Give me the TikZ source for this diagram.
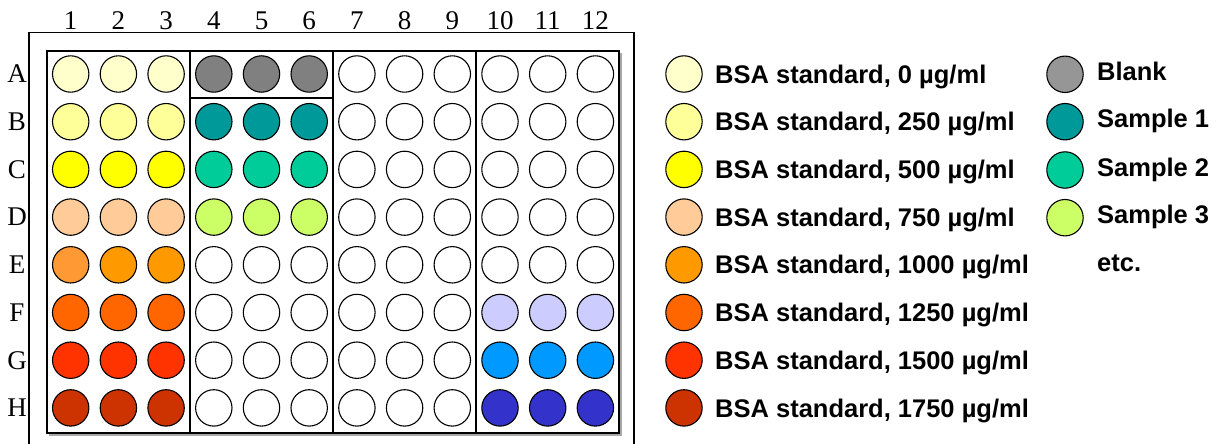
\documentclass[tikz,border=0pt]{standalone}
\usepackage{fontspec}
\setmainfont{Liberation Serif}
\newfontfamily\legfont{Liberation Sans}
\definecolor{cz}{HTML}{FFFFCC}
\definecolor{cb}{HTML}{FFFF99}
\definecolor{cc}{HTML}{FFFF00}
\definecolor{cd}{HTML}{FFCC99}
\definecolor{ce}{HTML}{FF9900}
\definecolor{cea}{HTML}{FF9933}
\definecolor{cf}{HTML}{FF6600}
\definecolor{cg}{HTML}{FF3300}
\definecolor{ch}{HTML}{CC3300}
\definecolor{gb}{HTML}{808080}
\definecolor{gbl}{HTML}{969696}
\definecolor{sa}{HTML}{009999}
\definecolor{sb}{HTML}{00CC99}
\definecolor{sc}{HTML}{CCFF66}
\definecolor{lav}{HTML}{CCCCFF}
\definecolor{sky}{HTML}{0099FF}
\definecolor{navy}{HTML}{3333CC}
\definecolor{shadow}{HTML}{A8A8A8}
\begin{document}
\begin{tikzpicture}[x=1pt,y=-1pt,
  well/.style={circle,draw=black,line width=1.1pt,minimum size=36.4pt,inner sep=0pt},
  lbl/.style={inner sep=0pt,font=\fontsize{27}{30}\selectfont},
  legtext/.style={anchor=base west,inner sep=0pt,font=\legfont\bfseries\fontsize{25.5}{28}\selectfont},
  frame/.style={draw=black,line width=1.3pt},
  divider/.style={draw=black,line width=1.6pt}]
\useasboundingbox (0,0) rectangle (1219,444);
\fill[white] (0,0) rectangle (1219,444);
% plate outline
\draw[frame] (29,446) -- (29,32.3) -- (634,32.3) -- (634,446);
% inner area shadow
\draw[shadow,line width=1.6pt] (49,435) -- (621,435) -- (621,53);
\draw[frame] (47,51) rectangle (619,433);
% dividers
\draw[divider] (190,51) -- (190,433);
\draw[divider] (332.7,51) -- (332.7,433);
\draw[divider] (475.7,51) -- (475.7,433);
\draw[divider] (190,98.3) -- (332.7,98.3);
% column labels
\foreach \c in {1,...,12}
  \node[lbl] (col-\c) at ({70.7+(\c-1)*47.7},20.5) {\c};
% wells
\foreach \r/\y/\cols in {
  A/74/{cz,cz,cz,gb,gb,gb,white,white,white,white,white,white},
  B/121.7/{cb,cb,cb,sa,sa,sa,white,white,white,white,white,white},
  C/169.4/{cc,cc,cc,sb,sb,sb,white,white,white,white,white,white},
  D/217.1/{cd,cd,cd,sc,sc,sc,white,white,white,white,white,white},
  E/264.8/{cea,ce,ce,white,white,white,white,white,white,white,white,white},
  F/312.5/{cf,cf,cf,white,white,white,white,white,white,lav,lav,lav},
  G/360.2/{cg,cg,cg,white,white,white,white,white,white,sky,sky,sky},
  H/407.9/{ch,ch,ch,white,white,white,white,white,white,navy,navy,navy}} {
  \node[lbl] (row-\r) at (17,\y) {\r};
  \foreach \fc [count=\c] in \cols
    \node[well,fill=\fc] (w-\r-\c) at ({70.7+(\c-1)*47.7},\y) {};
}
% legend, left column
\foreach \fc/\v/\y [count=\i] in {cz/0/74,cb/250/121.7,cc/500/169.4,cd/750/217.1,
  ce/1000/264.8,cf/1250/312.5,cg/1500/360.2,ch/1750/407.9} {
  \node[well,fill=\fc] (lk-\i) at (684,\y) {};
  \node[legtext] (lt-\i) at (715,\y+9.1) {BSA standard, \v\ µg/ml};
}
% legend, right column
\foreach \fc/\t/\y [count=\i] in {gbl/Blank/74.3,sa/Sample 1/121.7,sb/Sample 2/170,sc/Sample 3/217.7} {
  \node[well,fill=\fc] (rk-\i) at (1065,\y) {};
  \node[legtext] (rt-\i) at (1097,\y+6) {\t};
}
\node[legtext] (etc) at (1097,271.7) {etc.};
\end{tikzpicture}
\end{document}
